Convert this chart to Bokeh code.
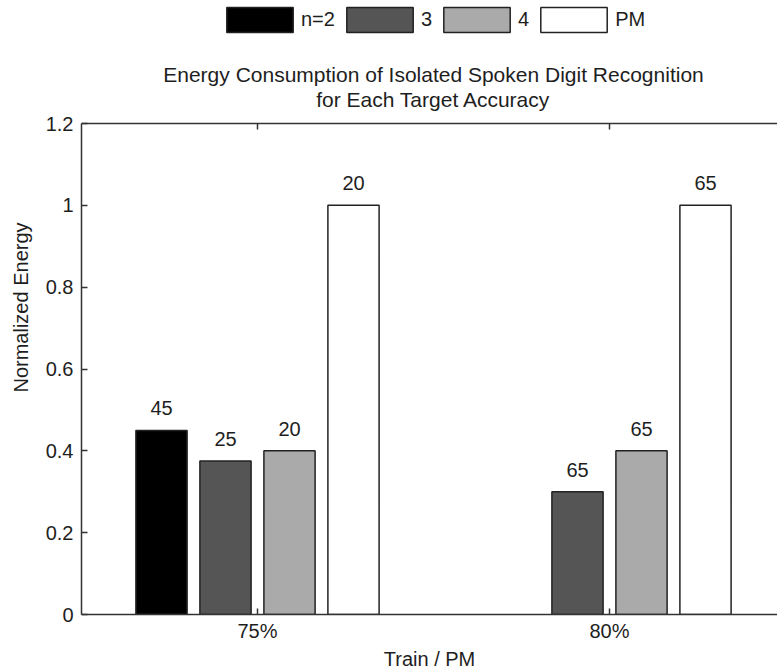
from bokeh.plotting import figure
from bokeh.models import (Range1d, FixedTicker, Legend, LegendItem,
                          ColumnDataSource, Label, Span)
from bokeh.transform import dodge
from bokeh.embed import file_html
from bokeh.resources import INLINE
from bokeh.core.properties import value

# ---------------- data ----------------
groups = ["75%", "80%"]
group_pos = [1, 2]
series_names = ["n=2", "3", "4", "PM"]
values_n2 = [0.45, float("nan")]
values_3 = [0.375, 0.30]
values_4 = [0.40, 0.40]
values_pm = [1.0, 1.0]
labels_n2 = ["45", ""]
labels_3 = ["25", "65"]
labels_4 = ["20", "65"]
labels_pm = ["20", "65"]
series_colors = ["#000000", "#555555", "#aaaaaa", "#ffffff"]
y_ticks = [0, 0.2, 0.4, 0.6, 0.8, 1.0, 1.2]
y_tick_labels = ["0", "0.2", "0.4", "0.6", "0.8", "1", "1.2"]
ylim = (0, 1.2)
xlim_full = (0.5, 2.5)
title_lines = ["Energy Consumption of Isolated Spoken Digit Recognition",
               "for Each Target Accuracy"]
x_label = "Train / PM"
y_label = "Normalized Energy"

# ---------------- layout (pixels) ----------------
FONT_NAME = "Liberation Sans"
FONT = value(FONT_NAME)
TXT = "#1e1e1e"
AX = "#333333"
W, H = 777, 672
FRAME_LEFT = 81          # left edge of the axes box
AXES_TOP = 123           # y=1.2 line
FRAME_BOTTOM = 614       # y=0 line
PX_PER_X = 352.0
Y_PER_PX = (ylim[1] - ylim[0]) / (FRAME_BOTTOM - AXES_TOP)
TITLE_BASELINES = [74, 99]
BAR_LABEL_OFFSET = -22
TICK_LEN = 6
# legend boxes (Bokeh insets the area swatch by 10% on each side)
BOX_W, BOX_H = 66.5, 24.5
GLYPH_W, GLYPH_H = BOX_W / 0.8, BOX_H / 0.8
LEGEND_BOX_LEFT, LEGEND_BOX_BOTTOM = 226, 31.5

x_end = xlim_full[0] + (W - FRAME_LEFT) / PX_PER_X
y_top = ylim[0] + FRAME_BOTTOM * Y_PER_PX   # frame reaches the top of the canvas

# MATLAB grouped-bar geometry
n = len(series_names)
group_width = min(0.8, n / (n + 1.5))
pitch = group_width / n
bar_width = 0.8 * pitch
offsets = [(i - (n - 1) / 2) * pitch for i in range(n)]

p = figure(width=W, height=H, title=None,
           x_range=Range1d(xlim_full[0], x_end), y_range=Range1d(ylim[0], y_top),
           output_backend="svg", toolbar_location=None,
           min_border_left=FRAME_LEFT, min_border_right=0,
           min_border_top=0, min_border_bottom=H - FRAME_BOTTOM)
p.background_fill_color = "white"
p.border_fill_color = "white"
p.outline_line_color = None
p.xgrid.visible = False
p.ygrid.visible = False

source = ColumnDataSource(dict(
    x=group_pos, v0=values_n2, v1=values_3, v2=values_4, v3=values_pm,
    l0=labels_n2, l1=labels_3, l2=labels_4, l3=labels_pm))

renderers = []
for i in range(n):
    r = p.vbar(x=dodge("x", offsets[i]), top="v%d" % i, bottom=0, width=bar_width,
               source=source, fill_color=series_colors[i],
               line_color="#222222", line_width=1.5)
    renderers.append(r)
    p.text(x=dodge("x", offsets[i]), y="v%d" % i, text="l%d" % i, source=source,
           text_align="center", text_baseline="alphabetic", y_offset=BAR_LABEL_OFFSET,
           text_font=FONT, text_font_size="20px", text_color=TXT)

# axes
def style_axis(ax):
    ax.axis_line_color = AX
    ax.axis_line_width = 1.5
    ax.major_tick_line_color = AX
    ax.major_tick_line_width = 1.5
    ax.major_tick_in = TICK_LEN
    ax.major_tick_out = 0
    ax.minor_tick_line_color = None
    ax.major_label_text_font = FONT_NAME
    ax.major_label_text_font_size = "20px"
    ax.major_label_text_color = TXT
    ax.axis_label_text_font = FONT_NAME
    ax.axis_label_text_font_size = "20px"
    ax.axis_label_text_font_style = "normal"
    ax.axis_label_text_color = TXT

xa = p.xaxis[0]
style_axis(xa)
xa.ticker = FixedTicker(ticks=group_pos)
xa.major_label_overrides = {g: lab for g, lab in zip(group_pos, groups)}
xa.major_label_standoff = 5
xa.axis_label = x_label
xa.axis_label_standoff = 3

ya = p.yaxis[0]
style_axis(ya)
ya.bounds = ylim
ya.ticker = FixedTicker(ticks=y_ticks)
ya.major_label_overrides = {t: lab for t, lab in zip(y_ticks, y_tick_labels)}
ya.major_label_standoff = 8
ya.axis_label = y_label
ya.axis_label_standoff = 11

# top edge of the axes box with its inward ticks
p.add_layout(Span(location=ylim[1], dimension="width", line_color=AX, line_width=1.5))
p.segment(x0=group_pos, x1=group_pos, y0=[ylim[1]] * len(group_pos),
          y1=[ylim[1] - TICK_LEN * Y_PER_PX] * len(group_pos),
          line_color=AX, line_width=1.5)

# two-line title centred on the full axes box
title_x = sum(xlim_full) / 2
for line, base in zip(title_lines, TITLE_BASELINES):
    p.add_layout(Label(x=title_x, y=ylim[0] + (FRAME_BOTTOM - base) * Y_PER_PX,
                       text=line, text_align="center", text_baseline="alphabetic",
                       text_font=FONT_NAME, text_font_size="21px", text_color=TXT))

# legend row above the title
legend_x = LEGEND_BOX_LEFT - 0.1 * GLYPH_W - FRAME_LEFT
legend_y = FRAME_BOTTOM - (LEGEND_BOX_BOTTOM + 0.1 * GLYPH_H)
legend = Legend(items=[LegendItem(label=nm, renderers=[r])
                       for nm, r in zip(series_names, renderers)],
                location=(int(round(legend_x)), int(round(legend_y))),
                orientation="horizontal",
                glyph_width=int(round(GLYPH_W)), glyph_height=int(round(GLYPH_H)),
                label_standoff=-4, spacing=3,
                padding=0, margin=0, label_width=0, label_height=20,
                border_line_color=None, background_fill_alpha=0,
                label_text_font=FONT_NAME, label_text_font_size="20px",
                label_text_color=TXT)
p.add_layout(legend)

open("out.html", "w").write(file_html(p, INLINE))
